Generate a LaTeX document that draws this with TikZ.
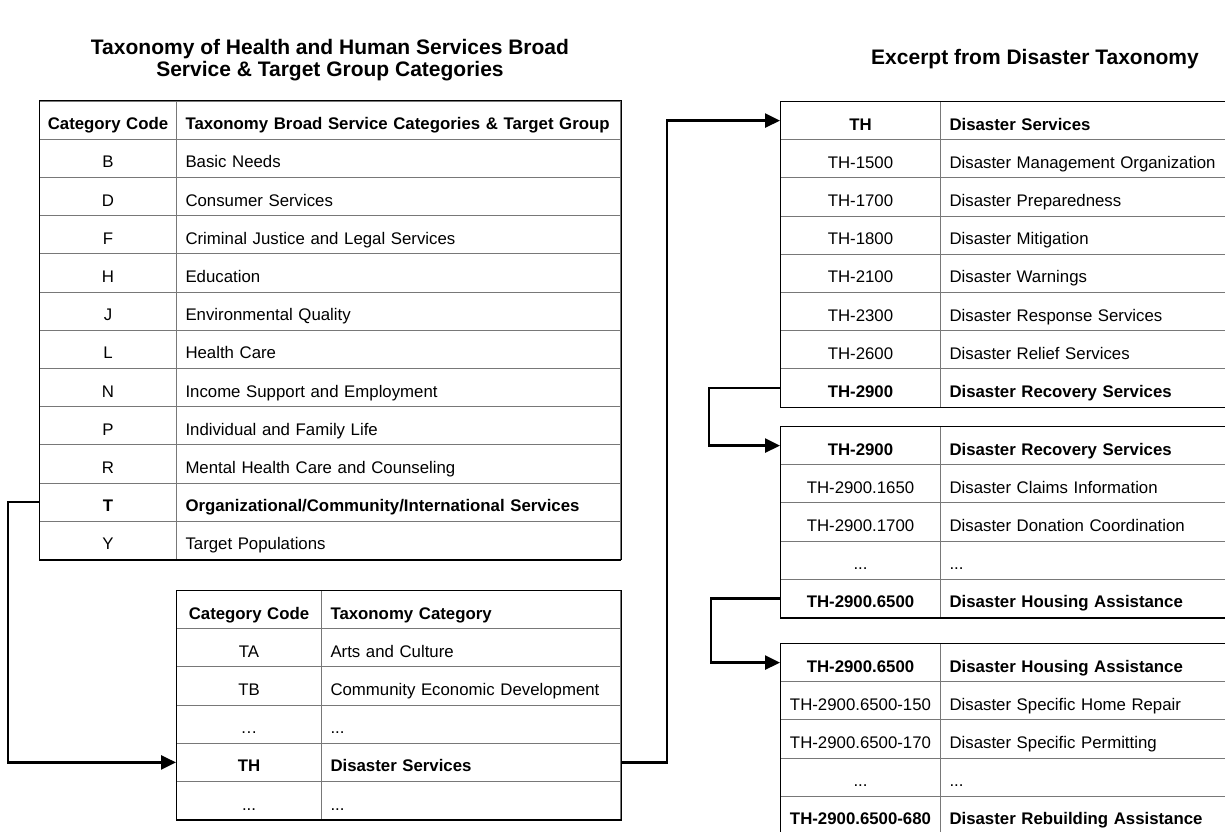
\documentclass[tikz,border=0pt]{standalone}
\usepackage{fontspec}
\setmainfont{Liberation Sans}
\usetikzlibrary{arrows.meta}
\definecolor{gridgray}{RGB}{120,120,120}
\newcommand\cellfont{\fontsize{16.8bp}{20bp}\selectfont}
\newcommand\headfont{\fontsize{21bp}{22.5bp}\selectfont\bfseries}
\tikzset{
  cell/.style={draw=gridgray, line width=1bp, inner ysep=0pt, inner xsep=2bp, minimum height=38.2bp, text height=19bp, text depth=0bp, anchor=north west, font=\cellfont},
  codeA/.style={cell, text width=133bp, align=center},
  descA/.style={cell, text width=440bp, align=left, execute at begin node=\hspace*{7bp}},
  codeB/.style={cell, text width=141bp, align=center},
  descB/.style={cell, text width=295bp, align=left, execute at begin node=\hspace*{7bp}},
  codeC/.style={cell, text width=156bp, align=center},
  descC/.style={cell, text width=306bp, align=left, execute at begin node=\hspace*{7bp}},
  hd/.style={font=\cellfont\bfseries},
  frame/.style={line width=1bp},
  link/.style={line width=2.5bp, -{Triangle[length=15bp,width=14bp]}}
}
\begin{document}
\begin{tikzpicture}[x=1bp,y=-1bp]
\useasboundingbox (0,0) rectangle (1225,832);

\node[font=\headfont, align=center] (title1) at (330,60) {Taxonomy of Health and Human Services Broad\\Service \& Target Group Categories};
\node[font=\headfont] (title2) at (1035,59) {Excerpt from Disaster Taxonomy};

%broad categories
\node[codeA,hd] (bs0c) at (39,100.5) {Category Code};
\node[descA,hd] (bs0d) at (176,100.5) {Taxonomy Broad Service Categories \& Target Group};
\node[codeA] (bsBc) at (39,138.7) {B};
\node[descA] (bsBd) at (176,138.7) {Basic Needs};
\node[codeA] (bsDc) at (39,176.9) {D};
\node[descA] (bsDd) at (176,176.9) {Consumer Services};
\node[codeA] (bsFc) at (39,215.1) {F};
\node[descA] (bsFd) at (176,215.1) {Criminal Justice and Legal Services};
\node[codeA] (bsHc) at (39,253.3) {H};
\node[descA] (bsHd) at (176,253.3) {Education};
\node[codeA] (bsJc) at (39,291.5) {J};
\node[descA] (bsJd) at (176,291.5) {Environmental Quality};
\node[codeA] (bsLc) at (39,329.7) {L};
\node[descA] (bsLd) at (176,329.7) {Health Care};
\node[codeA] (bsNc) at (39,367.9) {N};
\node[descA] (bsNd) at (176,367.9) {Income Support and Employment};
\node[codeA] (bsPc) at (39,406.1) {P};
\node[descA] (bsPd) at (176,406.1) {Individual and Family Life};
\node[codeA] (bsRc) at (39,444.3) {R};
\node[descA] (bsRd) at (176,444.3) {Mental Health Care and Counseling};
\node[codeA,hd] (bsTc) at (39,482.5) {T};
\node[descA,hd] (bsTd) at (176,482.5) {Organizational/Community/International Services};
\node[codeA] (bsYc) at (39,520.7) {Y};
\node[descA] (bsYd) at (176,520.7) {Target Populations};
\draw[frame] (bs0c.north west) rectangle (bsYd.south east);
\draw[line width=1.6bp] (bsYc.south west) -- (bsYd.south east);

%T categories
\node[codeB,hd] (tc0c) at (176,590) {Category Code};
\node[descB,hd] (tc0d) at (321,590) {Taxonomy Category};
\node[codeB] (tcTAc) at (176,628.2) {TA};
\node[descB] (tcTAd) at (321,628.2) {Arts and Culture};
\node[codeB] (tcTBc) at (176,666.4) {TB};
\node[descB] (tcTBd) at (321,666.4) {Community Economic Development};
\node[codeB] (tcdotc) at (176,704.6) {\dots};
\node[descB] (tcdotd) at (321,704.6) {...};
\node[codeB,hd] (tcTHc) at (176,742.8) {TH};
\node[descB,hd] (tcTHd) at (321,742.8) {Disaster Services};
\node[codeB] (tcendc) at (176,781) {...};
\node[descB] (tcendd) at (321,781) {...};
\draw[frame] (tc0c.north west) rectangle (tcendd.south east);
\draw[line width=1.6bp] (tcendc.south west) -- (tcendd.south east);

%disaster services
\node[codeC,hd] (ds0c) at (780,101) {TH};
\node[descC,hd] (ds0d) at (940,101) {Disaster Services};
\node[codeC] (ds1500c) at (780,139.2) {TH-1500};
\node[descC] (ds1500d) at (940,139.2) {Disaster Management Organization};
\node[codeC] (ds1700c) at (780,177.4) {TH-1700};
\node[descC] (ds1700d) at (940,177.4) {Disaster Preparedness};
\node[codeC] (ds1800c) at (780,215.6) {TH-1800};
\node[descC] (ds1800d) at (940,215.6) {Disaster Mitigation};
\node[codeC] (ds2100c) at (780,253.8) {TH-2100};
\node[descC] (ds2100d) at (940,253.8) {Disaster Warnings};
\node[codeC] (ds2300c) at (780,292) {TH-2300};
\node[descC] (ds2300d) at (940,292) {Disaster Response Services};
\node[codeC] (ds2600c) at (780,330.2) {TH-2600};
\node[descC] (ds2600d) at (940,330.2) {Disaster Relief Services};
\node[codeC,hd] (ds2900c) at (780,368.4) {TH-2900};
\node[descC,hd] (ds2900d) at (940,368.4) {Disaster Recovery Services};
\draw[frame] (ds0c.north west) rectangle (ds2900d.south east);
\draw[line width=1.6bp] (ds2900c.south west) -- (ds2900d.south east);

%recovery services
\node[codeC,hd] (rs0c) at (780,426) {TH-2900};
\node[descC,hd] (rs0d) at (940,426) {Disaster Recovery Services};
\node[codeC] (rs1650c) at (780,464.2) {TH-2900.1650};
\node[descC] (rs1650d) at (940,464.2) {Disaster Claims Information};
\node[codeC] (rs1700c) at (780,502.4) {TH-2900.1700};
\node[descC] (rs1700d) at (940,502.4) {Disaster Donation Coordination};
\node[codeC] (rsdotc) at (780,540.6) {...};
\node[descC] (rsdotd) at (940,540.6) {...};
\node[codeC,hd] (rs6500c) at (780,578.8) {TH-2900.6500};
\node[descC,hd] (rs6500d) at (940,578.8) {Disaster Housing Assistance};
\draw[frame] (rs0c.north west) rectangle (rs6500d.south east);
\draw[line width=1.6bp] (rs6500c.south west) -- (rs6500d.south east);

%housing assistance
\node[codeC,hd] (ha0c) at (780,643) {TH-2900.6500};
\node[descC,hd] (ha0d) at (940,643) {Disaster Housing Assistance};
\node[codeC] (ha150c) at (780,681.2) {TH-2900.6500-150};
\node[descC] (ha150d) at (940,681.2) {Disaster Specific Home Repair};
\node[codeC] (ha170c) at (780,719.4) {TH-2900.6500-170};
\node[descC] (ha170d) at (940,719.4) {Disaster Specific Permitting};
\node[codeC] (hadotc) at (780,757.6) {...};
\node[descC] (hadotd) at (940,757.6) {...};
\node[codeC,hd] (ha680c) at (780,795.8) {TH-2900.6500-680};
\node[descC,hd] (ha680d) at (940,795.8) {Disaster Rebuilding Assistance};
\draw[frame] (ha0c.north west) rectangle (ha680d.south east);

\draw[link] (bsTc.west) -- ++(-31,0) |- (tcTHc.west);
\draw[link] (tcTHd.east) -- ++(46,0) |- (ds0c.west);
\draw[link] (ds2900c.west) -- ++(-71,0) |- (rs0c.west);
\draw[link] (rs6500c.west) -- ++(-69,0) |- (ha0c.west);
\end{tikzpicture}
\end{document}
